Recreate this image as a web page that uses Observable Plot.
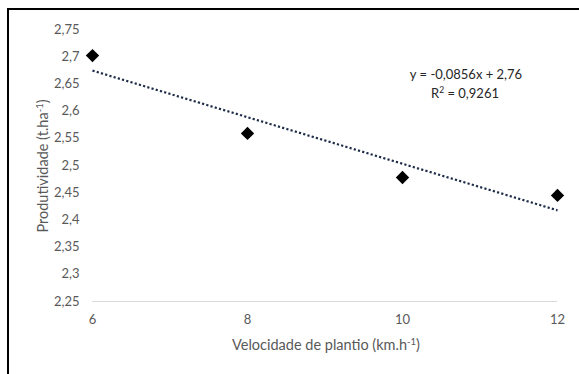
<!DOCTYPE html>
<html>
<head>
<meta charset="utf-8">
<script src="https://cdn.jsdelivr.net/npm/d3@7"></script>
<script src="https://cdn.jsdelivr.net/npm/@observablehq/plot@0.6"></script>
<style>
  html, body { margin: 0; padding: 0; background: #fff; }
  #wrap { position: relative; width: 579px; height: 374px; overflow: hidden; }
  #frame { position: absolute; left: 7px; top: 8px; right: -10px; bottom: -10px;
           border-left: 2px solid #000; border-top: 2px solid #000; pointer-events: none; }
  svg { font-family: Lato, "Open Sans", sans-serif; }
</style>
</head>
<body>
<div id="wrap"><div id="frame"></div></div>
<script>
// Data
const speeds = [6, 8, 10, 12];
const yields = [2.702, 2.559, 2.478, 2.445];
const trendX = [6, 12];
const trendY = [2.6744, 2.4176]; // y = -0,0856x + 2,76 with x = point index 1..4
const yTicks = [2.25, 2.3, 2.35, 2.4, 2.45, 2.5, 2.55, 2.6, 2.65, 2.7, 2.75];
const xTicks = [6, 8, 10, 12];
const equation = "y = -0,0856x + 2,76";
const r2Value = "0,9261";

const points = speeds.map((s, i) => ({x: s, y: yields[i]}));
const trend = trendX.map((s, i) => ({x: s, y: trendY[i]}));
const fmt = d => String(+d.toFixed(2)).replace(".", ",");

const chart = Plot.plot({
  width: 579,
  height: 374,
  marginLeft: 92,
  marginRight: 22,
  marginTop: 29,
  marginBottom: 73,
  style: {fontFamily: "Lato, 'Open Sans', sans-serif", fontSize: "13px", color: "#595959", background: "transparent"},
  x: {domain: [6, 12], ticks: xTicks, tickFormat: fmt, tickSize: 0, tickPadding: 13, label: null},
  y: {domain: [2.25, 2.75], ticks: yTicks, tickFormat: fmt, tickSize: 0, tickPadding: 13, label: null},
  marks: [
    Plot.ruleY([2.25], {stroke: "#d9d9d9", strokeWidth: 1}),
    Plot.line(trend, {x: "x", y: "y", stroke: "#1f2d4a", strokeWidth: 2.2, strokeDasharray: "2.2,2.2", strokeLinecap: "butt"}),
    Plot.dot(points, {x: "x", y: "y", symbol: "diamond2", r: 6, fill: "#000", stroke: "none"})
  ]
});
document.getElementById("wrap").appendChild(chart);

const svg = d3.select(chart);

// Y-axis title
const yt = svg.append("text")
  .attr("transform", "translate(48,166) rotate(-90)")
  .attr("text-anchor", "middle")
  .attr("font-size", 14.5).attr("fill", "#595959");
yt.append("tspan").text("Produtividade (t.ha");
yt.append("tspan").text("-1").attr("font-size", 9.5).attr("dy", -5);
yt.append("tspan").text(")").attr("dy", 5);

// X-axis title
const xt = svg.append("text")
  .attr("x", 326).attr("y", 350)
  .attr("text-anchor", "middle")
  .attr("font-size", 14.5).attr("fill", "#595959");
xt.append("tspan").text("Velocidade de plantio (km.h");
xt.append("tspan").text("-1").attr("font-size", 9.5).attr("dy", -5);
xt.append("tspan").text(")").attr("dy", 5);

// Equation
svg.append("text").attr("x", 466).attr("y", 79).attr("text-anchor", "middle")
  .attr("font-size", 13).attr("fill", "#262626").text(equation);
const r2 = svg.append("text").attr("x", 465).attr("y", 98).attr("text-anchor", "middle")
  .attr("font-size", 13).attr("fill", "#262626");
r2.append("tspan").text("R");
r2.append("tspan").text("2").attr("font-size", 8.5).attr("dy", -5);
r2.append("tspan").text(" = " + r2Value).attr("dy", 5);
</script>
</body>
</html>
